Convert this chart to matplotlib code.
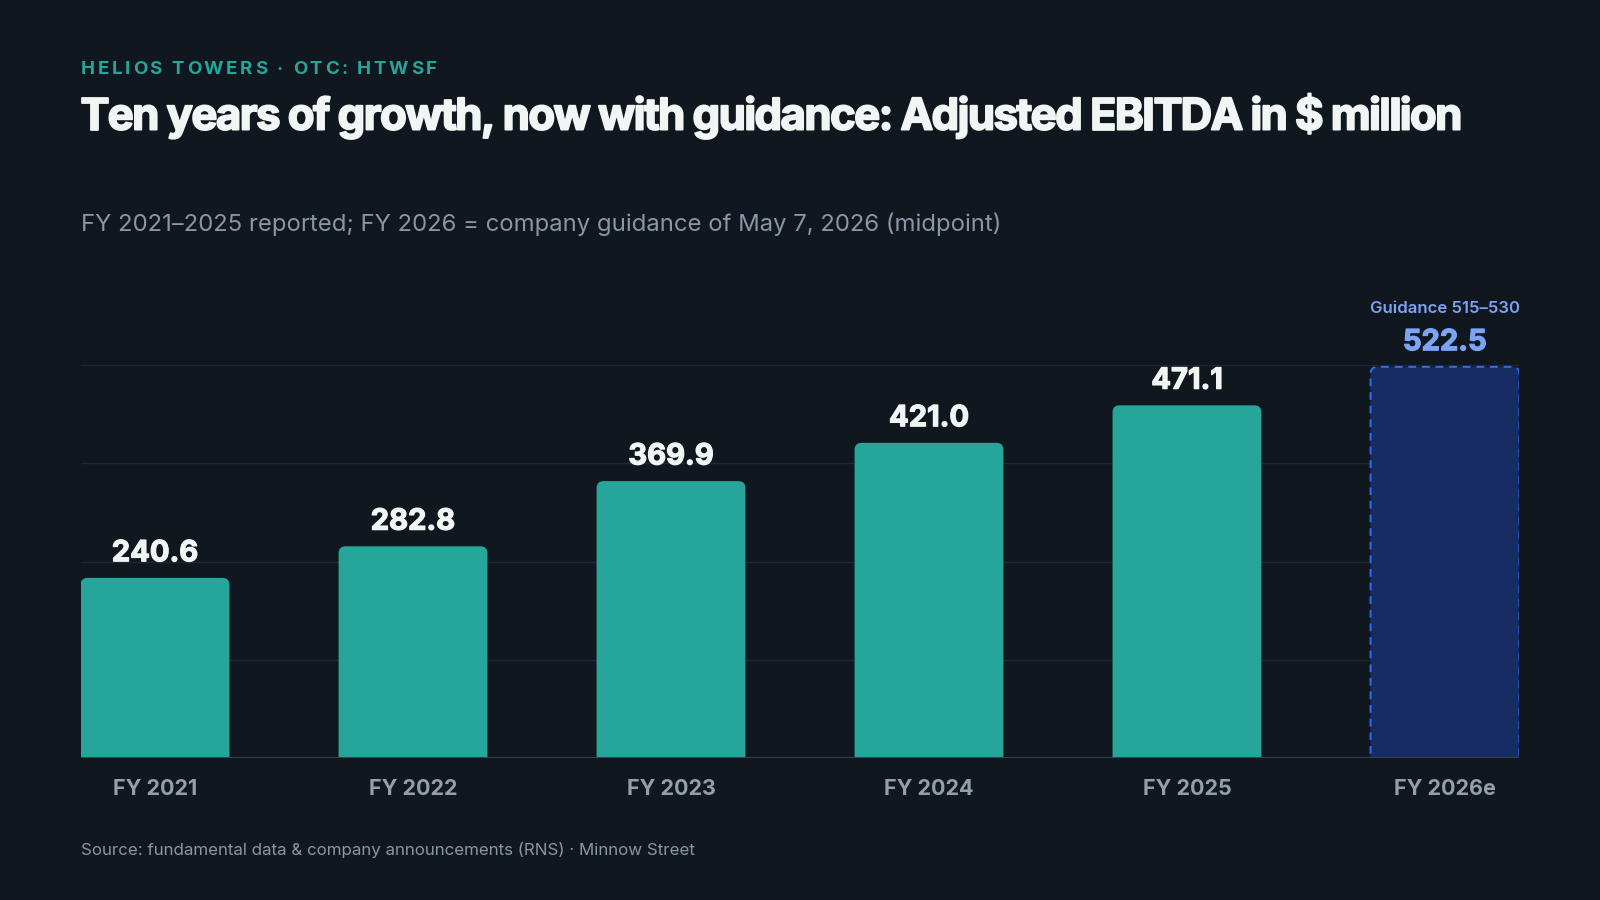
import matplotlib.pyplot as plt
from matplotlib.patches import FancyBboxPatch
from matplotlib.font_manager import FontProperties
import matplotlib.patheffects as pe

# data
years = ['FY 2021', 'FY 2022', 'FY 2023', 'FY 2024', 'FY 2025', 'FY 2026e']
ebitda = [240.6, 282.8, 369.9, 421.0, 471.1, 522.5]
guide_lo, guide_hi = 515, 530
n_reported = 5

# colours
bg = '#10171f'
teal = '#26a69a'
navy = '#172c63'
dash_blue = '#2f6df0'
light_blue = '#7ba4f7'
grid_c = '#1e2832'
base_c = '#334155'
white = '#f1f5f4'
grey = '#8a96a3'
tick_grey = '#949fac'

plt.rcParams['font.family'] = ['Inter', 'DejaVu Sans']

W, H = 1600, 900
fig = plt.figure(figsize=(16, 9), dpi=100, facecolor=bg)
renderer = fig.canvas.get_renderer()


def tracked_text(x, y, s, fp, color, track, stroke=0):
    # draw text char by char with extra letter spacing (pixels)
    for ch in s:
        t = fig.text(x / W, 1 - y / H, ch, fontproperties=fp, color=color,
                     ha='left', va='baseline')
        if stroke:
            t.set_path_effects([pe.withStroke(linewidth=stroke, foreground=color)])
        w, h, d = renderer.get_text_width_height_descent(ch, fp, ismath=False)
        x += w + track


ax_l, ax_r, ax_b, ax_t = 80.6, 1519.4, 758, 365
ax = fig.add_axes([ax_l / W, 1 - ax_b / H, (ax_r - ax_l) / W, (ax_b - ax_t) / H])
ax.set_facecolor(bg)

bw = 0.577
ymax = 525
ax.set_xlim(-bw / 2, len(years) - 1 + bw / 2)
ax.set_ylim(0, ymax)

# gridlines
for k in range(1, 5):
    ax.axhline(ymax * k / 4, color=grid_c, lw=1, zorder=0)

# pixel scale for corner radius
px_x = (ax_r - ax_l) / (len(years) - 1 + bw)
px_y = (ax_b - ax_t) / ymax
r_px = 7
aspect = px_x / px_y

for i, v in enumerate(ebitda):
    if i < n_reported:
        fc, ec, ls, lw = teal, 'none', '-', 0
    else:
        fc, ec, ls, lw = navy, dash_blue, (0, (4, 3)), 1.4
    p = FancyBboxPatch((i - bw / 2, -30), bw, v + 30,
                       boxstyle='round,pad=0,rounding_size=%f' % (r_px / px_x),
                       mutation_aspect=aspect, facecolor=fc, edgecolor=ec,
                       linestyle=ls, linewidth=lw, zorder=2)
    ax.add_patch(p)
    col = white if i < n_reported else light_blue
    ax.annotate('%.1f' % v, (i, v), xytext=(0, 12), textcoords='offset points',
                ha='center', va='baseline', fontsize=21, fontweight='bold',
                color=col, zorder=4,
                path_effects=[pe.withStroke(linewidth=0.9, foreground=col)])

ax.annotate('Guidance %d\u2013%d' % (guide_lo, guide_hi), (len(years) - 1, ebitda[-1]),
            xytext=(0, 39), textcoords='offset points', ha='center', va='baseline',
            fontsize=12, fontweight='semibold', color=light_blue, annotation_clip=False)

ax.axhline(0, color=base_c, lw=2.2, zorder=3)

ax.set_xticks(range(len(years)))
ax.set_xticklabels(years, fontsize=15.5, fontweight='bold', color=tick_grey)
ax.tick_params(axis='x', length=0, pad=15)
ax.set_yticks([])
for s in ax.spines.values():
    s.set_visible(False)

# kicker
kp = FontProperties(family=['Inter', 'DejaVu Sans'], weight='bold', size=13.5)
tracked_text(81, 74.5, 'HELIOS TOWERS \u00b7 OTC: HTWSF', kp, teal, 2.6)

# title, tight tracking and extra weight
tp = FontProperties(family=['Inter', 'DejaVu Sans'], weight='bold', size=31.5)
tracked_text(80, 129.6, 'Ten years of growth, now with guidance: Adjusted EBITDA in $ million',
             tp, white, -1.6, stroke=1.3)

fig.text(80.6 / W, 1 - 230.6 / H,
         'FY 2021\u20132025 reported; FY 2026 = company guidance of May 7, 2026 (midpoint)',
         fontsize=17.2, color=grey, ha='left', va='baseline')
fig.text(80.6 / W, 1 - 855 / H,
         'Source: fundamental data & company announcements (RNS) \u00b7 Minnow Street',
         fontsize=12.2, color=grey, ha='left', va='baseline')

fig.savefig('out.png', dpi=100, facecolor=bg)
